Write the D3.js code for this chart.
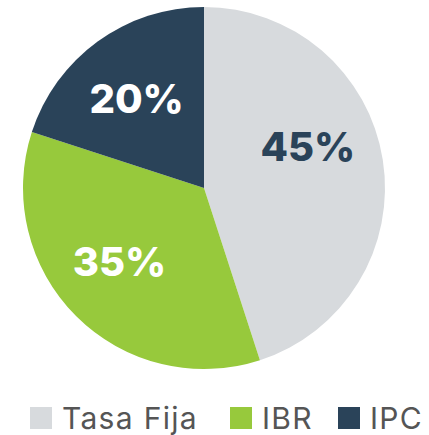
<!DOCTYPE html>
<html>
<head>
<meta charset="utf-8">
<script src="https://cdn.jsdelivr.net/npm/d3@7"></script>
<style>
  html, body { margin: 0; padding: 0; background: #fff; }
  svg { display: block; }
</style>
</head>
<body>
<svg id="chart" width="429" height="435"></svg>
<script>
// data
const categories = ["Tasa Fija", "IBR", "IPC"];
const values = [45, 35, 20];
const colors = ["#d7dadd", "#97c93c", "#2a4359"];
const labelColors = ["#2a4359", "#ffffff", "#ffffff"];

const W = 429, H = 435;
const cx = 204, cy = 188, R = 181;
const labelR = 112;
const labelNudge = [-13, 4, -1]; // degrees, small shifts to match reference placement

const svg = d3.select("#chart");

const pie = d3.pie().sort(null).value((d) => d.v);
const arcs = pie(categories.map((c, i) => ({ c, v: values[i], i })));
const arc = d3.arc().innerRadius(0).outerRadius(R);

const g = svg.append("g").attr("transform", `translate(${cx},${cy})`);

g.selectAll("path").data(arcs).join("path")
  .attr("d", arc)
  .attr("fill", (d) => colors[d.data.i]);

// percent labels
const labelAngle = (d) => (d.startAngle + d.endAngle) / 2 + labelNudge[d.data.i] * Math.PI / 180;
g.selectAll("text").data(arcs).join("text")
  .attr("x", (d) => labelR * Math.sin(labelAngle(d)))
  .attr("y", (d) => -labelR * Math.cos(labelAngle(d)))
  .attr("text-anchor", "middle")
  .attr("dominant-baseline", "central")
  .attr("font-family", "Inter, 'Open Sans', sans-serif")
  .attr("font-weight", 800)
  .attr("font-size", 40)
  .attr("fill", (d) => labelColors[d.data.i])
  .text((d) => d.data.v + "%");

// legend
const legendX = [30, 230, 338];
const leg = svg.append("g").attr("transform", "translate(0,418)");
const items = leg.selectAll("g").data(categories).join("g")
  .attr("transform", (d, i) => `translate(${legendX[i]},0)`);
items.append("rect")
  .attr("x", 0).attr("y", -11).attr("width", 22).attr("height", 22)
  .attr("fill", (d, i) => colors[i]);
items.append("text")
  .attr("x", 32).attr("y", 0)
  .attr("dominant-baseline", "central")
  .attr("font-family", "Inter, 'Open Sans', sans-serif")
  .attr("font-size", 30)
  .attr("letter-spacing", 1.3)
  .attr("fill", "#555555")
  .text((d) => d);
</script>
</body>
</html>
